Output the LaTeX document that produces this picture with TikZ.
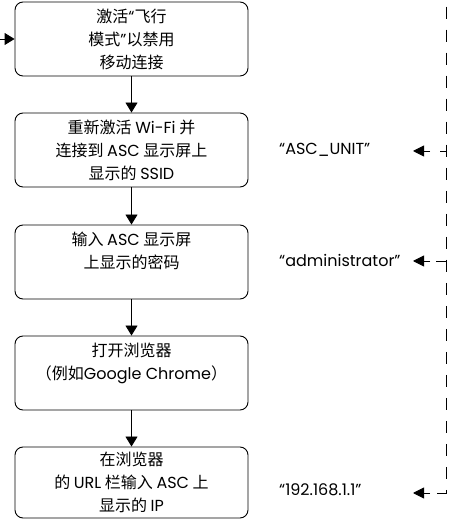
\documentclass[tikz,border=0pt]{standalone}
\usepackage{fontspec}
\setmainfont{Noto Sans CJK SC}
\newfontfamily\latin{Poppins}
\newcommand{\lt}[1]{{\latin #1}}
\usepackage{tikz}
\usetikzlibrary{arrows.meta,positioning,calc}

\begin{document}
\begin{tikzpicture}[x=1pt,y=1pt,
  stepbox/.style={draw,rounded corners=8pt,minimum width=233pt,minimum height=74pt,align=center,font=\fontsize{16}{23}\selectfont,line width=0.9pt},
  flow/.style={-{Triangle[width=12pt,length=10pt]},line width=0.9pt},
  hint/.style={dash pattern=on 12pt off 11pt,line width=0.9pt},
  pointer/.style={-{Triangle[width=11pt,length=11pt]},line width=0.9pt},
  value/.style={anchor=west,font=\latin\fontsize{16}{18}\selectfont,inner sep=0pt}]
\useasboundingbox (0,0) rectangle (454,519);
\node[stepbox] (flight) at (131.5,480) {激活\lt{“}飞行\\模式\lt{”}以禁用\\移动连接};
\node[stepbox] (wifi) at (131.5,369) {重新激活 \lt{Wi-Fi} 并\\连接到 \lt{ASC} 显示屏上\\显示的 \lt{SSID}};
\node[stepbox] (pwd) at (131.5,257) {输入 \lt{ASC} 显示屏\\上显示的密码\\\mbox{}};
\node[stepbox] (browser) at (131.5,146) {打开浏览器\\（例如\lt{Google Chrome}）\\\mbox{}};
\node[stepbox,minimum height=71pt] (url) at (131.5,36.5) {在浏览器\\的 \lt{URL} 栏输入 \lt{ASC} 上\\显示的 \lt{IP}};
\coordinate (start) at (0,480);
\draw[flow] (start) -- (flight); \draw[flow] (flight) -- (wifi); \draw[flow] (wifi) -- (pwd); \draw[flow] (pwd) -- (browser); \draw[flow] (browser) -- (url);
% values shown on the ASC display
\node[value] (ssid) at (279,369) {“ASC\_UNIT”};
\node[value] (admin) at (279,259) {“administrator”};
\node[value] (ip) at (279,29) {“192.168.1.1”};
\coordinate (src) at (446,535);
\coordinate (bendssid) at (436,368); \coordinate (tailssid) at (430,368); \coordinate (tipssid) at (413,368);
\coordinate (bendadmin) at (436,258); \coordinate (tailadmin) at (430,258); \coordinate (tipadmin) at (413,258);
\coordinate (bendip) at (436,26); \coordinate (tailip) at (430,26); \coordinate (tipip) at (413,26);
\draw[hint] (src) |- (bendssid); \draw[hint] (src) |- (bendadmin); \draw[hint] (src) |- (bendip);
\draw[pointer] (tailssid) -- (tipssid); \draw[pointer] (tailadmin) -- (tipadmin); \draw[pointer] (tailip) -- (tipip);
\end{tikzpicture}
\end{document}
